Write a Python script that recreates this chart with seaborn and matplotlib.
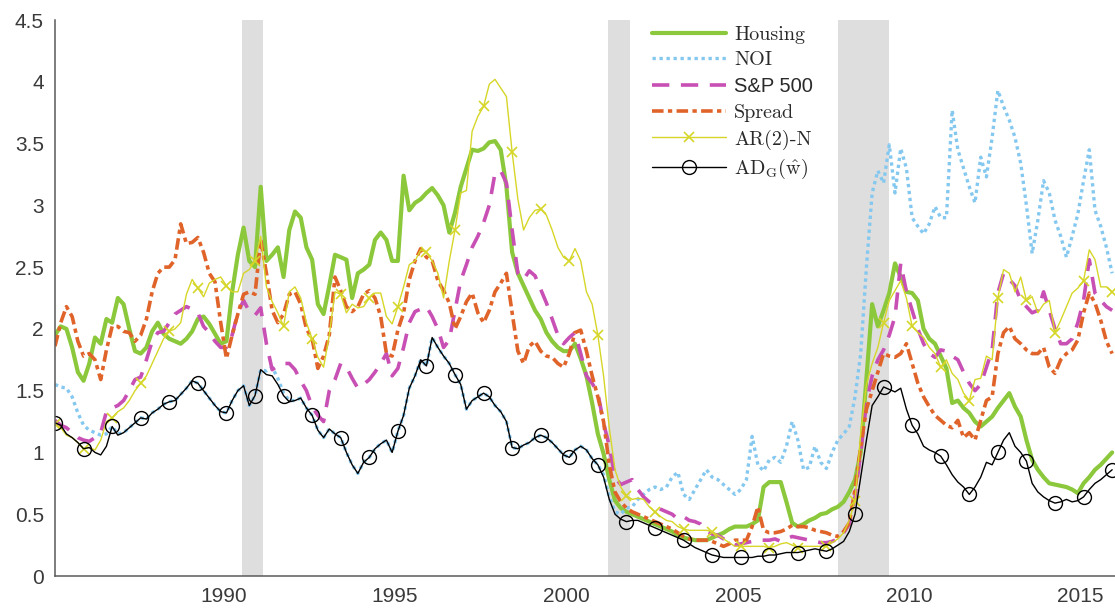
import numpy as np
import pandas as pd
import matplotlib
matplotlib.use('Agg')
import matplotlib.pyplot as plt
from matplotlib.ticker import FuncFormatter
import seaborn as sns

# bimonthly readings (Feb, Apr, Jun, Aug, Oct, Dec), 1985-2015, one row per year
housing = [
    1.95, 2.02, 2.00, 1.85, 1.65, 1.58,
    1.72, 1.93, 1.88, 2.08, 2.05, 2.25,
    2.20, 2.00, 1.82, 1.80, 1.85, 1.98,
    2.05, 1.96, 1.92, 1.90, 1.88, 1.92,
    1.98, 2.08, 2.10, 2.04, 1.96, 1.88,
    1.90, 2.30, 2.60, 2.82, 2.55, 2.50,
    3.15, 2.55, 2.60, 2.66, 2.42, 2.80,
    2.95, 2.90, 2.66, 2.56, 2.20, 2.12,
    2.35, 2.60, 2.58, 2.56, 2.25, 2.45,
    2.48, 2.52, 2.72, 2.78, 2.72, 2.55,
    2.55, 3.24, 2.96, 3.02, 3.05, 3.10,
    3.14, 3.08, 3.00, 2.78, 2.94, 3.15,
    3.30, 3.45, 3.44, 3.46, 3.51, 3.52,
    3.45, 3.15, 2.62, 2.45, 2.35, 2.25,
    2.15, 2.08, 1.97, 1.90, 1.85, 1.82,
    1.82, 1.88, 1.76, 1.62, 1.40, 1.15,
    0.99, 0.78, 0.61, 0.55, 0.52, 0.50,
    0.48, 0.46, 0.44, 0.42, 0.40, 0.38,
    0.36, 0.33, 0.31, 0.30, 0.29, 0.29,
    0.29, 0.31, 0.33, 0.35, 0.38, 0.40,
    0.40, 0.40, 0.42, 0.45, 0.72, 0.76,
    0.76, 0.76, 0.60, 0.43, 0.40, 0.42,
    0.45, 0.47, 0.50, 0.51, 0.54, 0.56,
    0.60, 0.68, 0.78, 1.00, 1.60, 2.20,
    2.02, 2.15, 2.29, 2.53, 2.42, 2.30,
    2.29, 2.23, 2.00, 1.92, 1.88, 1.78,
    1.68, 1.40, 1.42, 1.36, 1.32, 1.25,
    1.21, 1.25, 1.29, 1.36, 1.42, 1.48,
    1.37, 1.29, 1.10, 0.94, 0.86, 0.80,
    0.75, 0.74, 0.73, 0.72, 0.70, 0.67,
    0.75, 0.80, 0.86, 0.90, 0.95, 1.00,
]

noi = [
    1.55, 1.53, 1.52, 1.45, 1.32, 1.22,
    1.18, 1.16, 1.14, 1.15, 1.21, 1.15,
    1.16, 1.20, 1.24, 1.28, 1.27, 1.32,
    1.35, 1.39, 1.41, 1.42, 1.47, 1.52,
    1.58, 1.56, 1.50, 1.44, 1.38, 1.33,
    1.32, 1.42, 1.50, 1.54, 1.38, 1.46,
    1.67, 1.66, 1.69, 1.60, 1.48, 1.42,
    1.42, 1.44, 1.36, 1.30, 1.18, 1.12,
    1.19, 1.15, 1.12, 1.00, 0.90, 0.83,
    0.92, 0.96, 1.03, 1.07, 1.10, 1.00,
    1.17, 1.30, 1.52, 1.62, 1.75, 1.70,
    1.93, 1.85, 1.78, 1.72, 1.63, 1.55,
    1.35, 1.42, 1.45, 1.48, 1.45, 1.38,
    1.33, 1.25, 1.04, 1.03, 1.06, 1.08,
    1.12, 1.14, 1.12, 1.08, 1.03, 0.98,
    0.96, 1.02, 1.05, 1.02, 0.95, 0.90,
    0.82, 0.64, 0.52, 0.50, 0.55, 0.56,
    0.62, 0.66, 0.70, 0.72, 0.70, 0.72,
    0.80, 0.84, 0.66, 0.62, 0.70, 0.78,
    0.86, 0.80, 0.78, 0.74, 0.70, 0.66,
    0.70, 0.78, 1.13, 0.90, 0.85, 0.94,
    0.96, 0.92, 1.05, 1.25, 1.10, 0.86,
    0.88, 1.05, 0.92, 0.87, 1.00, 1.10,
    1.15, 1.21, 1.45, 1.80, 2.50, 3.10,
    3.28, 3.18, 3.49, 3.10, 3.46, 3.30,
    2.90, 2.83, 2.77, 2.85, 2.99, 2.90,
    2.90, 3.77, 3.45, 3.30, 3.15, 3.02,
    3.39, 3.23, 3.55, 3.93, 3.80, 3.69,
    3.55, 3.34, 3.00, 2.61, 2.88, 3.20,
    3.10, 2.88, 2.75, 2.58, 2.75, 2.93,
    3.20, 3.45, 2.96, 2.83, 2.66, 2.45,
]

sp500 = [
    1.26, 1.22, 1.20, 1.16, 1.12, 1.10,
    1.09, 1.12, 1.16, 1.33, 1.36, 1.38,
    1.42, 1.50, 1.59, 1.61, 1.75, 1.90,
    1.97, 1.98, 2.05, 2.12, 2.15, 2.18,
    2.16, 2.13, 2.02, 1.97, 1.90, 1.85,
    1.85, 1.95, 2.13, 2.23, 2.14, 2.11,
    2.17, 1.88, 1.67, 1.70, 1.72, 1.72,
    1.67, 1.58, 1.50, 1.37, 1.30, 1.25,
    1.50, 1.59, 1.72, 1.69, 1.60, 1.52,
    1.55, 1.59, 1.65, 1.72, 1.80, 1.62,
    1.68, 1.85, 2.05, 2.14, 2.16, 2.18,
    2.10, 2.00, 1.85, 1.91, 2.15, 2.39,
    2.52, 2.66, 2.75, 2.86, 3.00, 3.26,
    3.28, 3.18, 2.80, 2.45, 2.40, 2.47,
    2.43, 2.32, 2.21, 2.08, 1.95, 1.88,
    1.93, 1.97, 1.80, 1.62, 1.56, 1.48,
    1.24, 1.05, 0.80, 0.74, 0.76, 0.78,
    0.70, 0.64, 0.60, 0.57, 0.54, 0.52,
    0.50, 0.46, 0.48, 0.45, 0.44, 0.42,
    0.36, 0.34, 0.33, 0.30, 0.27, 0.25,
    0.26, 0.27, 0.28, 0.29, 0.29, 0.29,
    0.30, 0.28, 0.30, 0.32, 0.31, 0.30,
    0.29, 0.28, 0.27, 0.27, 0.28, 0.30,
    0.35, 0.42, 0.64, 1.00, 1.40, 1.62,
    1.75, 1.83, 1.95, 2.10, 2.53, 2.30,
    2.15, 2.00, 1.88, 1.80, 1.77, 1.83,
    1.82, 1.78, 1.75, 1.65, 1.56, 1.50,
    1.55, 1.69, 1.83, 2.29, 2.45, 2.40,
    2.35, 2.23, 2.18, 2.13, 2.15, 2.30,
    2.15, 2.00, 1.88, 1.88, 1.92, 2.05,
    2.23, 2.56, 2.29, 2.23, 2.18, 2.15,
]

spread = [
    1.86, 2.05, 2.18, 2.10, 1.90, 1.78,
    1.80, 1.75, 1.59, 1.83, 2.02, 2.02,
    1.98, 1.97, 1.90, 1.95, 2.08, 2.30,
    2.45, 2.50, 2.50, 2.56, 2.85, 2.69,
    2.70, 2.74, 2.62, 2.45, 2.38, 2.05,
    1.76, 1.95, 2.12, 2.28, 2.30, 2.28,
    2.72, 2.45, 2.15, 2.05, 2.12, 2.28,
    2.30, 2.20, 2.00, 1.92, 1.68, 1.78,
    1.95, 2.42, 2.31, 2.18, 2.14, 2.18,
    2.28, 2.31, 2.25, 2.10, 1.80, 1.78,
    1.99, 2.13, 2.40, 2.55, 2.65, 2.58,
    2.55, 2.39, 2.31, 2.21, 2.00, 2.10,
    2.22, 2.29, 2.13, 2.05, 2.15, 2.30,
    2.37, 2.45, 2.13, 1.82, 1.72, 1.86,
    1.90, 1.82, 1.78, 1.77, 1.72, 1.69,
    1.80, 1.97, 1.99, 1.82, 1.62, 1.45,
    1.25, 0.90, 0.68, 0.60, 0.55, 0.52,
    0.50, 0.48, 0.46, 0.44, 0.42, 0.40,
    0.38, 0.35, 0.32, 0.30, 0.29, 0.29,
    0.29, 0.28, 0.26, 0.24, 0.26, 0.29,
    0.29, 0.29, 0.40, 0.56, 0.37, 0.35,
    0.35, 0.36, 0.38, 0.41, 0.40, 0.40,
    0.39, 0.37, 0.36, 0.35, 0.33, 0.32,
    0.36, 0.43, 0.70, 1.05, 1.35, 1.50,
    1.65, 1.80, 1.78, 1.77, 1.80, 1.88,
    1.72, 1.56, 1.45, 1.37, 1.30, 1.26,
    1.22, 1.20, 1.26, 1.12, 1.16, 1.10,
    1.26, 1.42, 1.45, 1.80, 1.97, 2.02,
    1.92, 1.88, 1.83, 1.80, 1.80, 1.85,
    1.69, 1.64, 1.75, 1.80, 1.83, 1.91,
    2.13, 2.29, 2.21, 2.07, 1.90, 1.80,
]

ar2n = [
    1.23, 1.20, 1.14, 1.12, 1.08, 1.03,
    1.04, 1.02, 1.10, 1.25, 1.28, 1.33,
    1.36, 1.42, 1.50, 1.56, 1.62, 1.72,
    1.82, 1.92, 1.98, 2.00, 2.05, 2.28,
    2.40, 2.33, 2.26, 2.37, 2.40, 2.42,
    2.35, 2.30, 2.30, 2.45, 2.48, 2.55,
    2.75, 2.34, 2.22, 2.13, 2.02, 2.30,
    2.34, 2.25, 2.05, 1.92, 1.77, 1.69,
    1.95, 2.30, 2.28, 2.13, 2.20, 2.17,
    2.18, 2.25, 2.29, 2.29, 2.10, 2.04,
    2.18, 2.34, 2.52, 2.55, 2.64, 2.62,
    2.55, 2.45, 2.25, 2.55, 2.80, 3.10,
    3.12, 3.60, 3.72, 3.80, 3.98, 4.02,
    3.95, 3.88, 3.43, 3.05, 2.80, 2.90,
    2.96, 2.97, 2.92, 2.80, 2.66, 2.58,
    2.55, 2.65, 2.55, 2.30, 2.20, 1.95,
    1.62, 1.20, 0.86, 0.72, 0.65, 0.62,
    0.63, 0.62, 0.56, 0.52, 0.48, 0.45,
    0.44, 0.40, 0.38, 0.37, 0.37, 0.37,
    0.37, 0.36, 0.33, 0.30, 0.27, 0.24,
    0.24, 0.24, 0.24, 0.24, 0.24, 0.23,
    0.24, 0.26, 0.27, 0.25, 0.23, 0.24,
    0.24, 0.24, 0.24, 0.24, 0.27, 0.30,
    0.35, 0.45, 0.61, 1.15, 1.55, 1.72,
    1.85, 2.05, 2.23, 2.31, 2.39, 2.25,
    2.02, 1.97, 1.93, 1.85, 1.80, 1.69,
    1.75, 1.64, 1.59, 1.48, 1.42, 1.59,
    1.60, 1.78, 1.75, 2.25, 2.48, 2.45,
    2.30, 2.42, 2.23, 2.26, 2.13, 2.20,
    2.23, 1.97, 2.07, 2.18, 2.29, 2.33,
    2.39, 2.64, 2.56, 2.34, 2.34, 2.30,
]

adg = [
    1.24, 1.22, 1.15, 1.12, 1.08, 1.03,
    1.04, 1.00, 0.98, 1.05, 1.21, 1.14,
    1.16, 1.20, 1.24, 1.28, 1.27, 1.32,
    1.35, 1.39, 1.41, 1.42, 1.47, 1.52,
    1.58, 1.56, 1.50, 1.44, 1.38, 1.33,
    1.32, 1.42, 1.50, 1.54, 1.38, 1.46,
    1.67, 1.63, 1.62, 1.55, 1.46, 1.41,
    1.42, 1.44, 1.36, 1.30, 1.18, 1.12,
    1.19, 1.15, 1.12, 1.00, 0.90, 0.83,
    0.92, 0.96, 1.03, 1.07, 1.10, 1.00,
    1.17, 1.30, 1.52, 1.62, 1.75, 1.70,
    1.93, 1.85, 1.78, 1.72, 1.63, 1.55,
    1.35, 1.42, 1.45, 1.48, 1.45, 1.38,
    1.33, 1.25, 1.04, 1.03, 1.06, 1.08,
    1.12, 1.14, 1.12, 1.08, 1.03, 0.98,
    0.96, 1.02, 1.05, 1.02, 0.95, 0.90,
    0.80, 0.62, 0.50, 0.46, 0.44, 0.45,
    0.45, 0.43, 0.41, 0.39, 0.37, 0.35,
    0.33, 0.31, 0.29, 0.26, 0.23, 0.21,
    0.19, 0.17, 0.16, 0.15, 0.15, 0.15,
    0.15, 0.15, 0.15, 0.16, 0.16, 0.17,
    0.17, 0.18, 0.19, 0.19, 0.19, 0.20,
    0.21, 0.22, 0.21, 0.20, 0.22, 0.25,
    0.28, 0.36, 0.50, 0.80, 1.10, 1.38,
    1.45, 1.53, 1.51, 1.49, 1.52, 1.35,
    1.22, 1.15, 1.05, 1.02, 1.00, 0.97,
    0.90, 0.82, 0.76, 0.72, 0.66, 0.72,
    0.80, 0.92, 0.90, 1.00, 1.10, 1.16,
    1.05, 1.00, 0.93, 0.75, 0.68, 0.64,
    0.61, 0.59, 0.60, 0.62, 0.60, 0.61,
    0.64, 0.70, 0.75, 0.78, 0.82, 0.86,
]

# NBER recessions (decimal years)
recessions = [(1990.55, 1991.16), (2001.20, 2001.86), (2007.92, 2009.42)]

# decimal year of each bimonthly observation (Feb 1985 onwards)
dates = 1985 + (1 + 2 * np.arange(len(housing))) / 12

df = pd.DataFrame({'date': dates, 'Housing': housing, 'NOI': noi, 'S&P 500': sp500,
                   'Spread': spread, 'AR(2)-N': ar2n, 'ADG': adg})

sns.set_style('white')
plt.rcParams['font.family'] = ['Liberation Sans', 'DejaVu Sans']
plt.rcParams['mathtext.fontset'] = 'cm'

fig = plt.figure(figsize=(11.15, 6.15), dpi=100)
ax = fig.add_axes([55 / 1115, 39 / 615, 1060 / 1115, 556 / 615])

for a, b in recessions:
    ax.axvspan(a, b, color='#dedede', lw=0, zorder=0)

sns.lineplot(data=df, x='date', y='Housing', ax=ax, color='#8cc83c', lw=3.0,
             label='Housing')
sns.lineplot(data=df, x='date', y='NOI', ax=ax, color='#84c8f0', lw=2.4,
             dashes=(1, 1.1), label='NOI')
sns.lineplot(data=df, x='date', y='S&P 500', ax=ax, color='#c84fb4', lw=2.6,
             dashes=(4.8, 3.2), label='S&P 500')
sns.lineplot(data=df, x='date', y='Spread', ax=ax, color='#e0642a', lw=2.6,
             dashes=(3.2, 1.2, 1.2, 1.2), label='Spread')
sns.lineplot(data=df, x='date', y='AR(2)-N', ax=ax, color='#d6d628', lw=1.0,
             marker='x', markersize=7, markevery=5, markeredgewidth=1.2,
             markeredgecolor='#d6d628', label='AR(2)-N')
sns.lineplot(data=df, x='date', y='ADG', ax=ax, color='black', lw=1.0,
             marker='o', markersize=10, markevery=5, markerfacecolor='none',
             markeredgewidth=1.0, markeredgecolor='black', label='ADG')

ax.set_xlim(1985 + 1 / 12, 2016)
ax.set_ylim(0, 4.5)
ax.set_xticks([1990, 1995, 2000, 2005, 2010, 2015])
ax.set_yticks(np.arange(0, 4.51, 0.5))
ax.yaxis.set_major_formatter(FuncFormatter(lambda v, p: '%g' % v))
ax.set_xlabel('')
ax.set_ylabel('')

for side in ['top', 'right']:
    ax.spines[side].set_visible(False)
for side in ['left', 'bottom']:
    ax.spines[side].set_color('#5a5a5a')
    ax.spines[side].set_linewidth(1.1)
ax.tick_params(direction='in', length=6, width=1.1, color='#5a5a5a',
               labelsize=15, labelcolor='#3a3a3a', pad=8)

handles, _ = ax.get_legend_handles_labels()
labels = ['Housing', 'NOI', 'S&P 500', 'Spread', 'AR(2)-N',
          r'AD$_{\mathrm{G}}$($\hat{\mathrm{w}}$)']
leg = ax.legend(handles, labels, loc='upper left', bbox_to_anchor=(0.563, 0.99),
                frameon=False, fontsize=14.5, handlelength=3.7, handletextpad=0.4,
                labelspacing=0.38, borderpad=0, borderaxespad=0)
for i, txt in enumerate(leg.get_texts()):
    txt.set_color('#2a2a2a')
    if i != 2:
        txt.set_fontfamily('cmr10')

fig.savefig('out.png', dpi=100)
